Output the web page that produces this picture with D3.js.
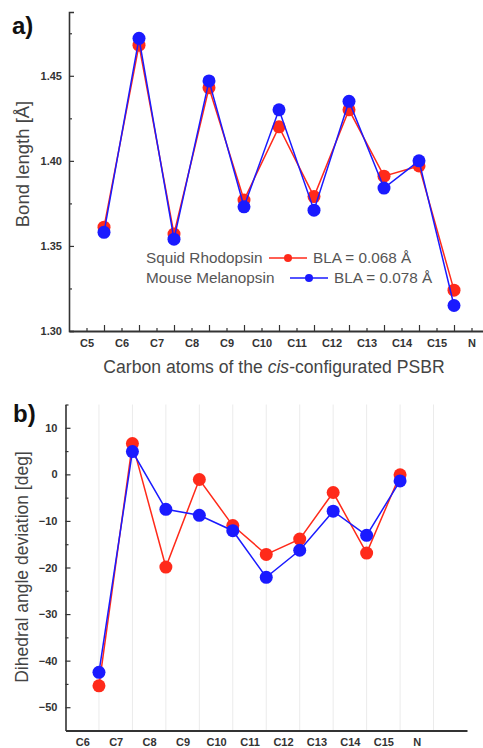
<!DOCTYPE html>
<html>
<head>
<meta charset="utf-8">
<script src="https://cdn.jsdelivr.net/npm/d3@7"></script>
<style>
  body { margin: 0; background: #fff; }
  svg { display: block; font-family: "Liberation Sans", Arial, sans-serif; }
</style>
</head>
<body>
<svg id="chart" width="483" height="748"></svg>
<script>
// panel a: bond lengths, plotted between the atom labels
const atomsA = ["C5", "C6", "C7", "C8", "C9", "C10", "C11", "C12", "C13", "C14", "C15", "N"];
const rhodopsinBond = [1.361, 1.468, 1.357, 1.443, 1.377, 1.420, 1.379, 1.430, 1.391, 1.397, 1.324];
const melanopsinBond = [1.358, 1.472, 1.354, 1.447, 1.373, 1.430, 1.371, 1.435, 1.384, 1.400, 1.315];
const bondTicks = [1.30, 1.35, 1.40, 1.45];
const bondMinorTicks = [1.325, 1.375, 1.425, 1.475];

// panel b: dihedral angle deviations
const atomsB = ["C6", "C7", "C8", "C9", "C10", "C11", "C12", "C13", "C14", "C15", "N"];
const rhodopsinDihedral = [-45.4, 6.6, -19.9, -1.1, -11.0, -17.2, -13.9, -3.9, -16.9, -0.1];
const melanopsinDihedral = [-42.5, 4.9, -7.5, -8.8, -12.1, -22.1, -16.3, -7.9, -13.1, -1.4];
const angleTicks = [10, 0, -10, -20, -30, -40, -50];
const angleMinorTicks = [15, 5, -5, -15, -25, -35, -45];

const seriesNames = ["Squid Rhodopsin", "Mouse Melanopsin"];
const blaValues = ["BLA = 0.068 Å", "BLA = 0.078 Å"];

const red = "#ff2a1a", blue = "#1a1aff", axisColor = "#333", textColor = "#444";
const svg = d3.select("#chart");

const styleAxis = (g) => {
  g.selectAll("path.domain").attr("stroke", axisColor).attr("stroke-width", 1.6);
  g.selectAll(".tick line").attr("stroke", axisColor).attr("stroke-width", 1.2);
  g.selectAll(".tick text")
    .attr("fill", axisColor)
    .style("font-size", "11px")
    .style("font-weight", "bold");
};

const drawSeries = (g, x, y, values, color) => {
  const pts = values.map((v, i) => [i + 0.5, v]);
  g.append("path")
    .datum(pts)
    .attr("fill", "none")
    .attr("stroke", color)
    .attr("stroke-width", 1.5)
    .attr("d", d3.line().x((d) => x(d[0])).y((d) => y(d[1])));
  g.selectAll(null)
    .data(pts)
    .join("circle")
    .attr("cx", (d) => x(d[0]))
    .attr("cy", (d) => y(d[1]))
    .attr("r", 6.5)
    .attr("fill", color);
};

// ---------- panel a ----------
const xA = d3.scaleLinear().domain([-0.5, 11.5]).range([69, 489]);
const yA = d3.scaleLinear().domain([1.30, 1.4875]).range([331, 12]);
const gA = svg.append("g");

gA.append("g")
  .attr("transform", "translate(69,0)")
  .call(d3.axisLeft(yA).tickValues(bondTicks).tickFormat(d3.format(".2f")).tickSize(-5).tickPadding(7))
  .call(styleAxis);
gA.append("g")
  .attr("transform", "translate(69,0)")
  .call(d3.axisLeft(yA).tickValues(bondMinorTicks).tickFormat("").tickSize(-3))
  .call(styleAxis)
  .call((g) => g.select("path.domain").remove());

gA.append("g")
  .attr("transform", "translate(0,331)")
  .call(d3.axisBottom(xA).tickValues(d3.range(atomsA.length)).tickFormat((i) => atomsA[i]).tickSize(-3).tickPadding(8).tickSizeOuter(0))
  .call(styleAxis)
  .call((g) => g.select("path.domain").attr("stroke-width", 2.2));
gA.append("g")
  .attr("transform", "translate(0,331)")
  .call(d3.axisBottom(xA).tickValues(d3.range(0.5, 11, 1)).tickFormat("").tickSize(-6))
  .call(styleAxis)
  .call((g) => g.select("path.domain").remove());

drawSeries(gA, xA, yA, rhodopsinBond, red);
drawSeries(gA, xA, yA, melanopsinBond, blue);

gA.append("text")
  .attr("x", 12).attr("y", 34)
  .attr("fill", "#111")
  .style("font-size", "24px").style("font-weight", "bold")
  .text("a)");

gA.append("text")
  .attr("transform", "translate(29,164) rotate(-90)")
  .attr("text-anchor", "middle")
  .attr("fill", textColor)
  .style("font-size", "18.5px")
  .text("Bond length [Å]");

const titleA = gA.append("text")
  .attr("x", 274).attr("y", 373)
  .attr("text-anchor", "middle")
  .attr("fill", textColor)
  .style("font-size", "17.6px");
titleA.append("tspan").text("Carbon atoms of the ");
titleA.append("tspan").style("font-style", "italic").text("cis");
titleA.append("tspan").text("-configurated PSBR");

// legend
const legendRows = [
  { name: seriesNames[0], bla: blaValues[0], color: red, x0: 269, x1: 307, ty: 263 },
  { name: seriesNames[1], bla: blaValues[1], color: blue, x0: 290, x1: 328, ty: 283 }
];
legendRows.forEach((r) => {
  const lg = gA.append("g").style("font-size", "15.3px").attr("fill", "#555");
  lg.append("text").attr("x", 146).attr("y", r.ty).text(r.name);
  lg.append("line")
    .attr("x1", r.x0).attr("x2", r.x1)
    .attr("y1", r.ty - 5).attr("y2", r.ty - 5)
    .attr("stroke", r.color).attr("stroke-width", 1.5);
  lg.append("circle")
    .attr("cx", (r.x0 + r.x1) / 2).attr("cy", r.ty - 5)
    .attr("r", 4).attr("fill", r.color);
  lg.append("text").attr("x", r.x1 + 6).attr("y", r.ty).text(r.bla);
});

// ---------- panel b ----------
const xB = d3.scaleLinear().domain([-0.5, 11.5]).range([65.5, 467]);
const yB = d3.scaleLinear().domain([-55, 15]).range([730.5, 404.5]);
const gB = svg.append("g");

gB.append("g")
  .selectAll("line")
  .data(d3.range(0.5, 11, 1))
  .join("line")
  .attr("x1", (d) => xB(d)).attr("x2", (d) => xB(d))
  .attr("y1", yB(15)).attr("y2", yB(-55))
  .attr("stroke", "#ebebeb").attr("stroke-width", 1);

gB.append("g")
  .attr("transform", "translate(65.5,0)")
  .call(d3.axisLeft(yB).tickValues(angleTicks).tickSize(-5).tickPadding(8).tickSizeOuter(0))
  .call(styleAxis);
gB.append("g")
  .attr("transform", "translate(65.5,0)")
  .call(d3.axisLeft(yB).tickValues(angleMinorTicks).tickFormat("").tickSize(-3))
  .call(styleAxis)
  .call((g) => g.select("path.domain").remove());

gB.append("g")
  .attr("transform", "translate(0,730.5)")
  .call(d3.axisBottom(xB).tickValues(d3.range(atomsB.length)).tickFormat((i) => atomsB[i]).tickSize(0).tickPadding(8).tickSizeOuter(0))
  .call(styleAxis)
  .call((g) => g.select("path.domain").attr("stroke-width", 2.2));

drawSeries(gB, xB, yB, rhodopsinDihedral, red);
drawSeries(gB, xB, yB, melanopsinDihedral, blue);

gB.append("text")
  .attr("x", 13).attr("y", 422)
  .attr("fill", "#111")
  .style("font-size", "24px").style("font-weight", "bold")
  .text("b)");

gB.append("text")
  .attr("transform", "translate(28,567) rotate(-90)")
  .attr("text-anchor", "middle")
  .attr("fill", textColor)
  .style("font-size", "17.5px")
  .text("Dihedral angle deviation [deg]");
</script>
</body>
</html>
